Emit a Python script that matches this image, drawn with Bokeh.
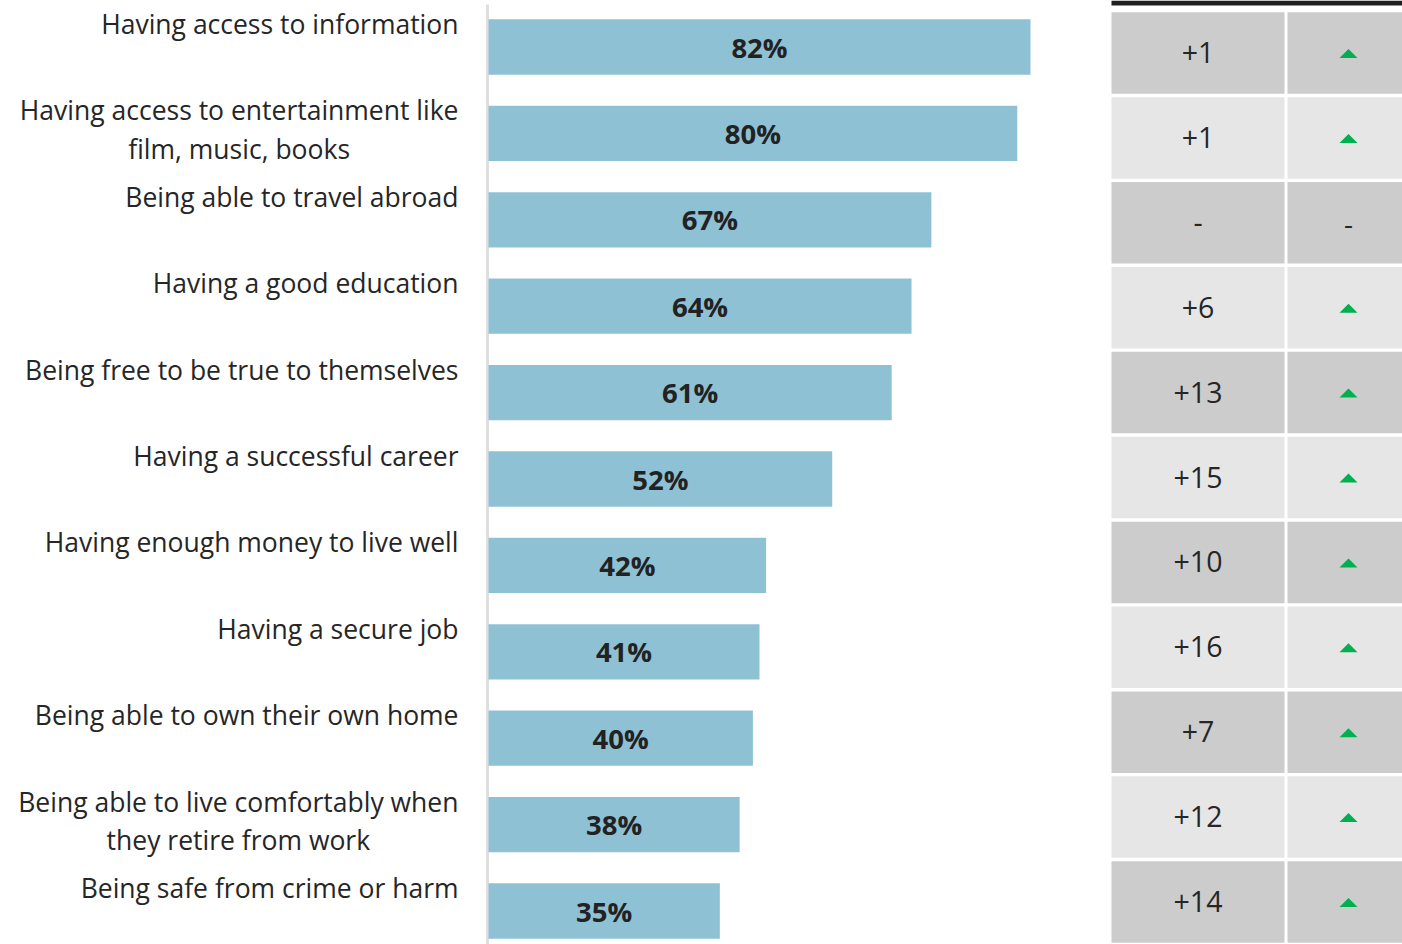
from bokeh.plotting import figure
from bokeh.models import Range1d, ColumnDataSource
from bokeh.core.properties import value
from bokeh.embed import file_html
from bokeh.resources import INLINE

# ---------------- data ----------------
categories = [
    "Having access to information",
    "Having access to entertainment like\nfilm, music, books",
    "Being able to travel abroad",
    "Having a good education",
    "Being free to be true to themselves",
    "Having a successful career",
    "Having enough money to live well",
    "Having a secure job",
    "Being able to own their own home",
    "Being able to live comfortably when\nthey retire from work",
    "Being safe from crime or harm",
]
shares = [82, 80, 67, 64, 61, 52, 42, 41, 40, 38, 35]
changes = ["+1", "+1", "-", "+6", "+13", "+15", "+10", "+16", "+7", "+12", "+14"]
direction = ["up", "up", "none", "up", "up", "up", "up", "up", "up", "up", "up"]

# ---------------- layout constants ----------------
W, H = 1402, 944
PX_PER_PCT = 542 / 82
BAR_X0 = 488
ROW0, ROW_PITCH = 46.5, 86.4
TROW0, TROW_PITCH, TROW_H = 52.5, 84.9, 81.5
COL1 = (1111, 1284)
COL2 = (1287, 1410)
LABEL_X = 458
LABEL_SIZE = 26.5
LINE_HEIGHT = 1.06
FONT = "Open Sans"

p = figure(
    width=W, height=H, output_backend="svg", toolbar_location=None,
    x_range=Range1d(-BAR_X0 / PX_PER_PCT, (W - BAR_X0) / PX_PER_PCT),
    y_range=Range1d((H - ROW0) / ROW_PITCH, -ROW0 / ROW_PITCH),
    x_axis_location=None, y_axis_location=None,
    min_border=0, min_border_left=0, min_border_right=0,
    min_border_top=0, min_border_bottom=0,
)
p.extra_x_ranges = {"px": Range1d(0, W)}
p.extra_y_ranges = {"py": Range1d(H, 0)}
p.grid.visible = False
p.outline_line_color = None
p.background_fill_color = "white"
p.border_fill_color = "white"

idx = list(range(len(categories)))

# axis line
p.segment(x0=[BAR_X0 - 1], x1=[BAR_X0 - 1], y0=[4], y1=[H + 10],
          line_color="#dedede", line_width=3, x_range_name="px", y_range_name="py")

# bars
bar_src = ColumnDataSource(dict(y=idx, right=shares, mid=[s / 2 for s in shares],
                                lab=[f"{s}%" for s in shares]))
p.hbar(y="y", left=0, right="right", height=0.64, source=bar_src,
       fill_color="#8fc1d4", line_color=None)
p.text(x="mid", y="y", text="lab", source=bar_src, text_align="center",
       text_baseline="middle", text_font=value(FONT), text_font_style="bold",
       text_font_size="27.5px", text_color="#222222")

# category labels: block right-aligned at the axis, lines centred within it
lab_y = [i - 41.0 / ROW_PITCH for i in idx]
p.text(x=[LABEL_X] * len(idx), y=lab_y, text=categories, x_range_name="px",
       anchor="top_right", text_align="center", text_baseline="top",
       text_line_height=LINE_HEIGHT,
       text_font=value(FONT), text_font_size=f"{LABEL_SIZE}px",
       text_color="#262626")

# table: header bar
p.quad(left=[COL1[0]], right=[COL2[1]], top=[0], bottom=[5], fill_color="#1f1f1f",
       line_color=None, x_range_name="px", y_range_name="py")

# table cells
cell_l, cell_r, cell_t, cell_b, cell_c = [], [], [], [], []
for j in idx:
    cy = TROW0 + TROW_PITCH * j
    col = "#cccccc" if j % 2 == 0 else "#e6e6e6"
    for (a, b) in (COL1, COL2):
        cell_l.append(a); cell_r.append(b)
        cell_t.append(cy - TROW_H / 2); cell_b.append(cy + TROW_H / 2)
        cell_c.append(col)
p.quad(left=cell_l, right=cell_r, top=cell_t, bottom=cell_b, fill_color=cell_c,
       line_color=None, x_range_name="px", y_range_name="py")

# change values
tx = [(COL1[0] + COL1[1]) / 2] * len(idx)
ty = [TROW0 + TROW_PITCH * j - 0.5 for j in idx]
p.text(x=tx, y=ty, text=changes, x_range_name="px", y_range_name="py",
       text_align="center", text_baseline="middle", text_font=value(FONT),
       text_font_size="28.5px", text_color="#262626")

# direction markers
TRI_X = 1348
xs, ys, dash_y = [], [], []
for j, d in enumerate(direction):
    cy = TROW0 + TROW_PITCH * j
    if d == "up":
        xs.append([TRI_X - 9, TRI_X + 9, TRI_X])
        ys.append([cy + 5, cy + 5, cy - 4])
    else:
        dash_y.append(cy + 1)
p.patches(xs=xs, ys=ys, fill_color="#00b050", line_color=None,
          x_range_name="px", y_range_name="py")
p.text(x=[TRI_X] * len(dash_y), y=dash_y, text=["-"] * len(dash_y),
       x_range_name="px", y_range_name="py", text_align="center",
       text_baseline="middle", text_font=value(FONT), text_font_size="28px",
       text_color="#262626")

open("out.html", "w").write(file_html(p, INLINE))
